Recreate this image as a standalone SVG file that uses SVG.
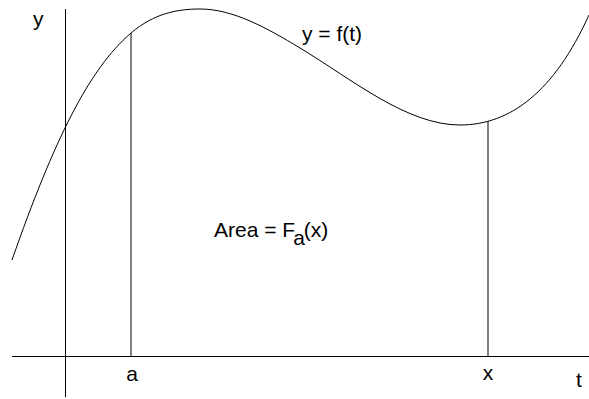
<svg xmlns="http://www.w3.org/2000/svg" width="589" height="399" viewBox="0 0 589 399">
<style>
  .ln { fill: none; stroke: #000; stroke-width: 1; }
  .lbl { font-family: "Liberation Sans", Arial, sans-serif; font-size: 21px; fill: #000; }
</style>
<rect width="589" height="399" fill="#fff"/>
<g id="axes">
  <line id="y-axis" class="ln" x1="65.5" y1="9" x2="65.5" y2="397"/>
  <line id="t-axis" class="ln" x1="12" y1="356.5" x2="589" y2="356.5"/>
</g>
<g id="curve">
  <path class="ln" d="M12,260 C54,140 89,69 131,33 C154,13.5 177,9 200,9 C233,9 267,28 300,48 C353,80 407,125 460,125 C510,125 554,92 589,15"/>
</g>
<g id="bounds">
  <line id="line-a" class="ln" x1="131" y1="33" x2="131" y2="356"/>
  <line id="line-x" class="ln" x1="488" y1="121" x2="488" y2="356"/>
</g>
<g id="labels">
  <text class="lbl" x="33" y="26">y</text>
  <text class="lbl" x="302" y="41">y = f(t)</text>
  <text class="lbl" x="214" y="237">Area = F<tspan dx="-2" dy="8">a</tspan><tspan dx="-1" dy="-8">(x)</tspan></text>
  <text class="lbl" x="132" y="381" text-anchor="middle">a</text>
  <text class="lbl" x="488" y="380" text-anchor="middle">x</text>
  <text class="lbl" x="579" y="387" text-anchor="middle">t</text>
</g>
</svg>
